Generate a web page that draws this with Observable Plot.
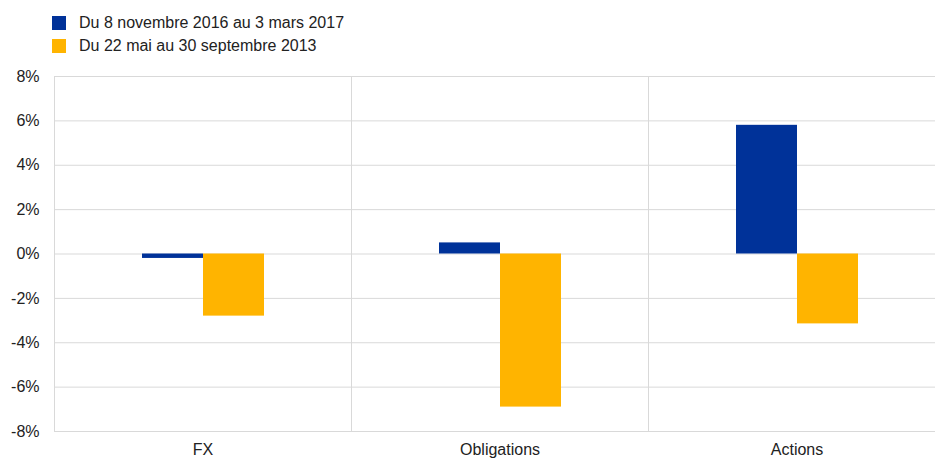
<!DOCTYPE html>
<html>
<head>
<meta charset="utf-8">
<script src="https://cdn.jsdelivr.net/npm/d3@7"></script>
<script src="https://cdn.jsdelivr.net/npm/@observablehq/plot@0.6"></script>
<style>
  html, body { margin: 0; padding: 0; background: #fff; overflow: hidden; }
  body { width: 935px; height: 459px; font-family: Arial, "Liberation Sans", sans-serif; color: #222; }
  #legend { height: 56px; position: relative; }
  .item { position: absolute; left: 52px; display: flex; align-items: center; font-size: 16px; line-height: 18px; }
  .swatch { width: 14px; height: 14px; margin-right: 13px; }
</style>
</head>
<body>
<div id="legend"></div>
<div id="chart"></div>
<script>
// Categories and series
const categories = ["FX", "Obligations", "Actions"];
const series = ["Du 8 novembre 2016 au 3 mars 2017", "Du 22 mai au 30 septembre 2013"];
const colors = ["#003299", "#FFB400"];

// Price changes (%) per category, one array per period
const values2016 = [-0.2, 0.5, 5.8];
const values2013 = [-2.8, -6.9, -3.15];

const yTicks = [-8, -6, -4, -2, 0, 2, 4, 6, 8];

const rows = [];
categories.forEach((c, i) => {
  rows.push({category: c, series: series[0], value: values2016[i]});
  rows.push({category: c, series: series[1], value: values2013[i]});
});

// Legend
const legend = document.getElementById("legend");
series.forEach((s, i) => {
  const item = document.createElement("div");
  item.className = "item";
  item.style.top = (14 + i * 23) + "px";
  const sw = document.createElement("div");
  sw.className = "swatch";
  sw.style.background = colors[i];
  const label = document.createElement("span");
  label.textContent = s;
  item.append(sw, label);
  legend.append(item);
});

const grid = "#d9d9d9";

const chart = Plot.plot({
  width: 935,
  height: 403,
  marginTop: 20,
  marginBottom: 28,
  marginLeft: 53,
  marginRight: 0,
  style: {fontFamily: "Arial, 'Liberation Sans', sans-serif", fontSize: "16px", color: "#222", overflow: "hidden"},
  fx: {domain: categories, range: [53, 945], padding: 0, label: null},
  x: {domain: series, paddingInner: 0, paddingOuter: 1.4, axis: null},
  y: {domain: [-8, 8], label: null},
  color: {domain: series, range: colors},
  marks: [
    Plot.gridY(yTicks, {stroke: grid, strokeOpacity: 1, strokeWidth: 1}),
    Plot.frame({anchor: "left", stroke: grid, strokeWidth: 1}),
    Plot.axisY(yTicks, {tickSize: 0, tickPadding: 15, tickFormat: d => `${d}%`, label: null}),
    Plot.axisFx({anchor: "bottom", tickSize: 0, tickPadding: 12, label: null}),
    Plot.barY(rows, {fx: "category", x: "series", y: "value", fill: "series"})
  ]
});
document.getElementById("chart").append(chart);
</script>
</body>
</html>
